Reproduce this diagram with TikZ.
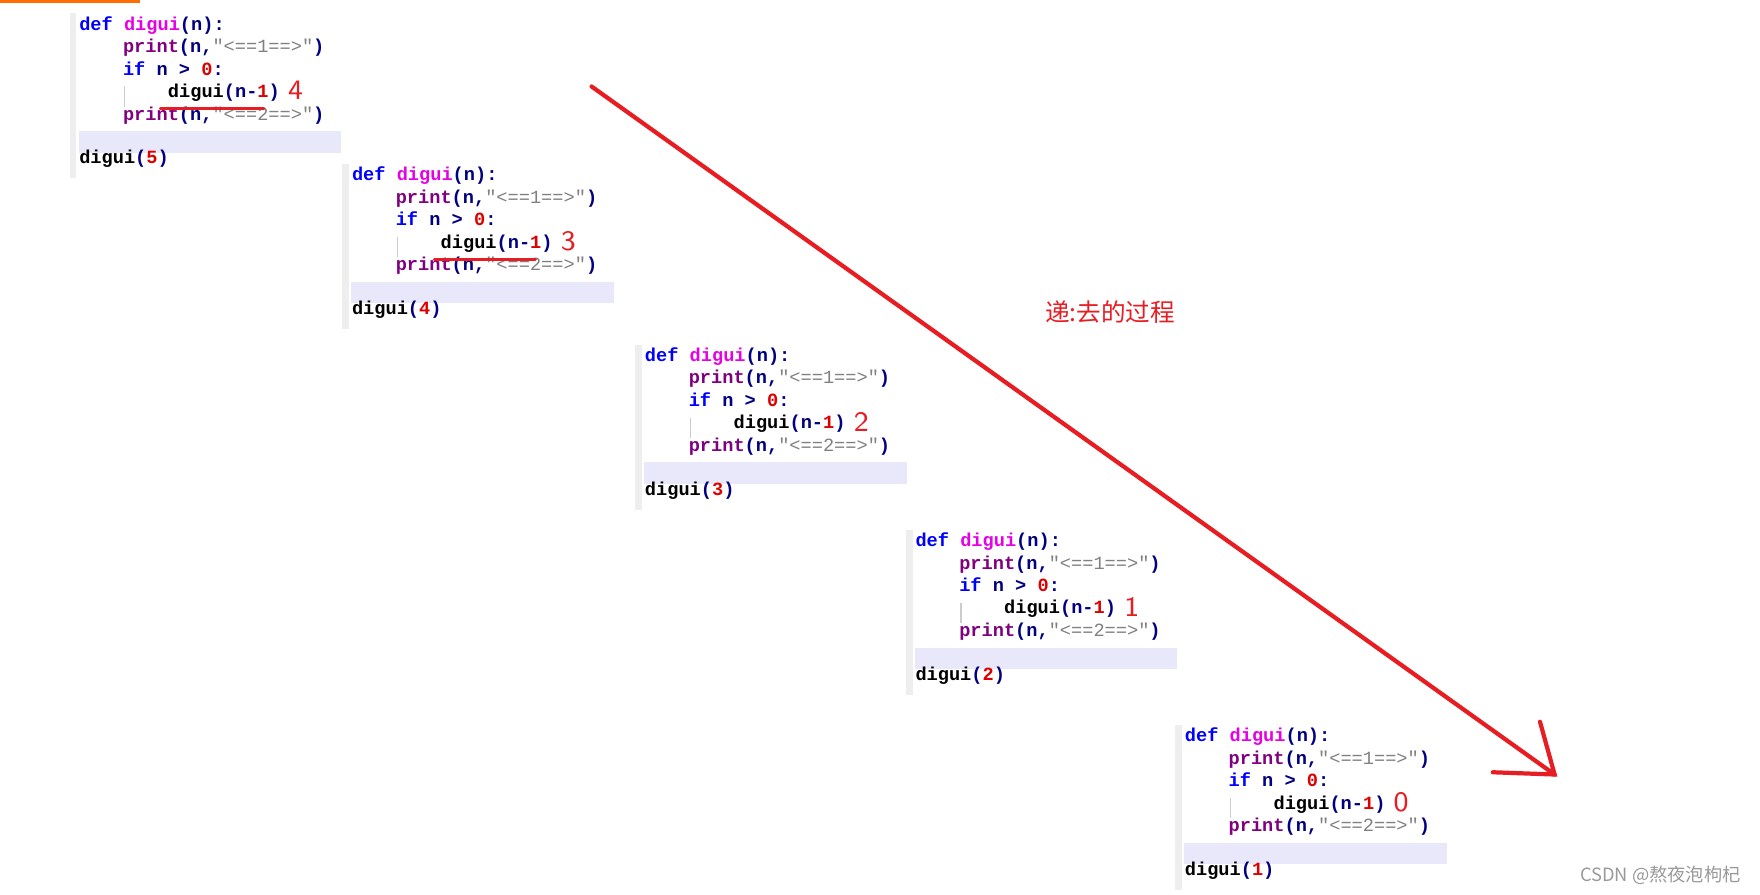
\documentclass[tikz,border=0pt]{standalone}
\usepackage{fontspec}
\setmonofont{Liberation Mono}
\newfontfamily\cjk{Noto Sans CJK SC}
\usepackage{xcolor}
\usetikzlibrary{positioning}
\definecolor{kwblue}{RGB}{0,0,255}
\definecolor{fnpink}{RGB}{230,0,230}
\definecolor{navy}{RGB}{0,0,128}
\definecolor{prpurple}{RGB}{128,0,128}
\definecolor{strgrey}{RGB}{128,128,128}
\definecolor{numred}{RGB}{220,0,0}
\definecolor{penred}{RGB}{230,30,35}
\definecolor{bandblue}{RGB}{232,232,250}
\definecolor{gutter}{RGB}{238,238,238}
\tikzset{
  codeline/.style={anchor=base west, inner sep=0pt, font=\ttfamily\bfseries\fontsize{5.3}{6}\selectfont},
  pennum/.style={anchor=base west, inner sep=0pt, text=penred, font=\sffamily\fontsize{8}{8}\selectfont},
  penline/.style={penred, line width=0.9pt, line cap=round}
}
% one block of code, #1,#2 = gutter left / def baseline, #3 = prefix, #4 = argument, #5 = annotation
\newcommand{\diguiblock}[5]{
  \fill [gutter] (#1, #2-15) rectangle (#1+6, #2+132);
  \fill [bandblue] (#1+8, #2+90) rectangle (#1+242, #2+109);
  \node [codeline] (#3l0) at (#1+8, #2) {\textcolor{kwblue}{def} \textcolor{fnpink}{digui}\textcolor{navy}{(n):}};
  \node [codeline] (#3l1) at (#1+47, #2+20) {\textcolor{prpurple}{print}\textcolor{navy}{(n,}\textcolor{strgrey}{\mdseries"<==1==>"}\textcolor{navy}{)}};
  \node [codeline] (#3l2) at (#1+47, #2+40) {\textcolor{kwblue}{if} \textcolor{navy}{n > }\textcolor{numred}{0}\textcolor{navy}{:}};
  \node [codeline] (#3l3) at (#1+87, #2+60) {digui\textcolor{navy}{(n-}\textcolor{numred}{1}\textcolor{navy}{)}};
  \node [codeline] (#3l4) at (#1+47, #2+80) {\textcolor{prpurple}{print}\textcolor{navy}{(n,}\textcolor{strgrey}{\mdseries"<==2==>"}\textcolor{navy}{)}};
  \node [codeline] (#3call) at (#1+8, #2+119) {digui\textcolor{navy}{(}\textcolor{numred}{#4}\textcolor{navy}{)}};
  \draw [strgrey!40] (#1+49, #2+50) -- (#1+49, #2+68);
  \node [pennum] (#3note) at (#1+194, #2+62) {#5};
}
\begin{document}
\begin{tikzpicture}[x=0.01122cm, y=-0.01122cm]
\useasboundingbox (0,0) rectangle (1568,797);
\fill [orange!85!red] (0,0) rectangle (125,3);

\diguiblock{62}{27}{a}{5}{4}
\diguiblock{305}{161}{b}{4}{3}
\diguiblock{566}{322}{c}{3}{2}
\diguiblock{807}{487}{d}{2}{1}
\diguiblock{1047}{661}{e}{1}{0}

% red pen marks
\draw [penline] (143, 97) -- (235, 97);
\draw [penline] (387, 231) -- (477, 231);

% the long arrow
\coordinate (start) at (527, 77);
\coordinate (tip) at (1385, 690);
\coordinate (barbl) at (1330, 688);
\coordinate (barbr) at (1372, 643);
\draw [penline, line width=1.2pt] (start) -- (tip);
\draw [penline, line width=1.2pt] (barbl) -- (tip) -- (barbr);
\node [text=penred, font=\cjk\fontsize{7}{7}\selectfont, anchor=west] (label) at (920, 278) {递:去的过程};

\node [text=black!40, font=\cjk\fontsize{5.2}{5.2}\selectfont, anchor=east] (mark) at (1562, 780) {CSDN @熬夜泡枸杞};
\end{tikzpicture}
\end{document}
